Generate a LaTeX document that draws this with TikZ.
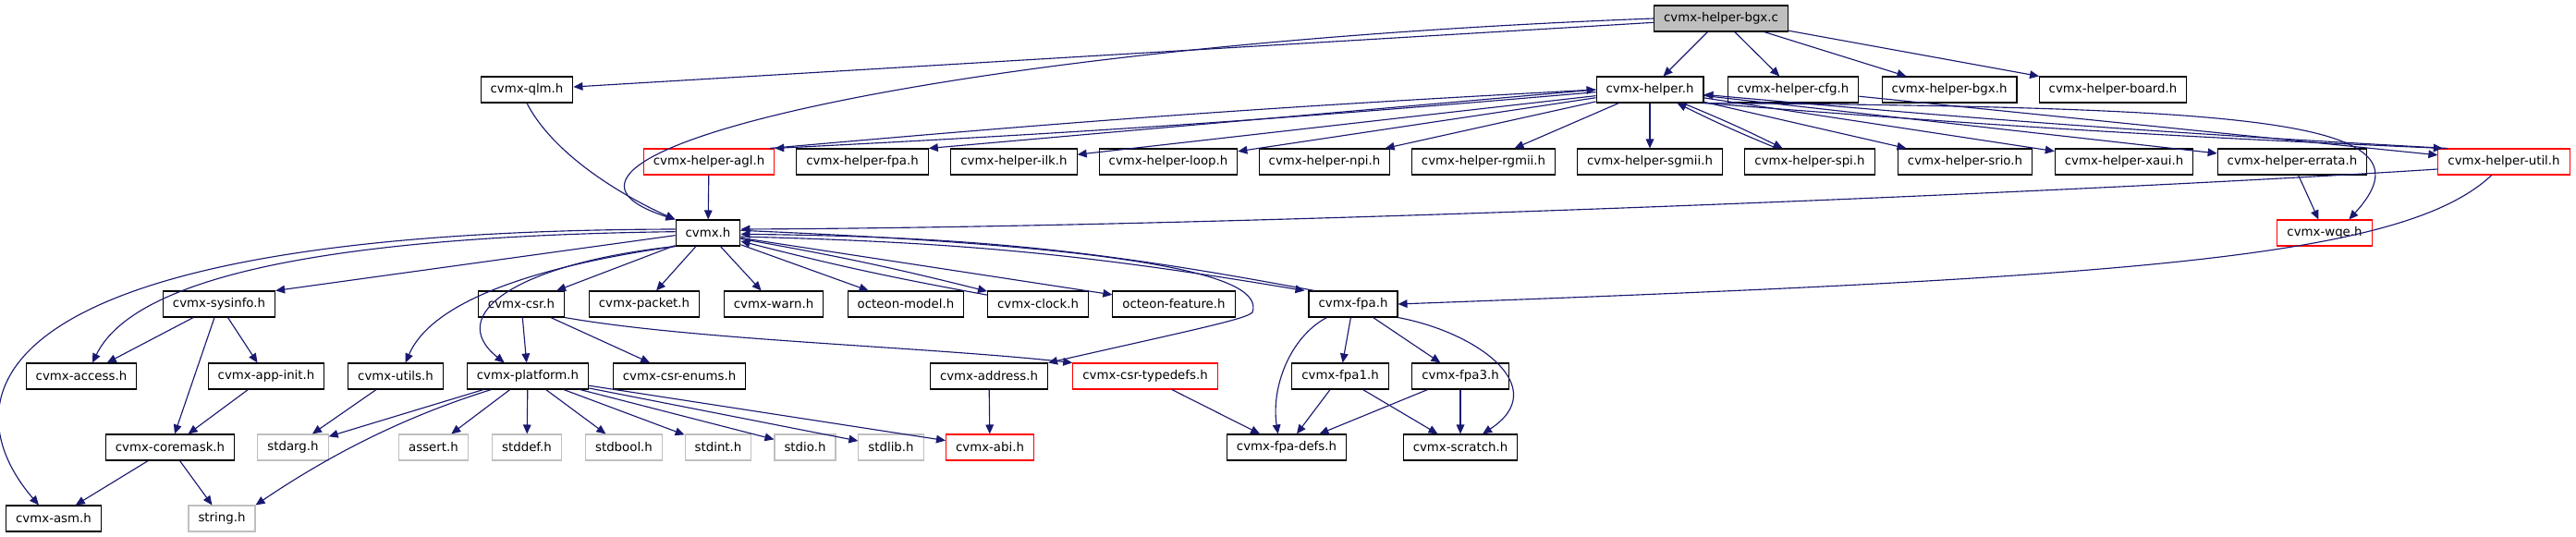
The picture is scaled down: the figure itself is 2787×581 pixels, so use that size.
\documentclass[tikz,border=0pt]{standalone}
\usepackage{fontspec}
\setmainfont{DejaVu Sans}
\usepackage{tikz}
\usetikzlibrary{arrows.meta, positioning}
\usepackage{xcolor}
\definecolor{edgeBlue}{RGB}{25,25,112}
\definecolor{boxRed}{RGB}{255,0,0}
\definecolor{boxGray}{RGB}{191,191,191}

\begin{document}
\begin{tikzpicture}[
  x=0.75pt, y=-0.75pt,
  hdr/.style={
    rectangle, draw=#1, line width=0.8pt, fill=white,
    minimum height=21pt, inner xsep=7.9pt, inner ysep=0pt,
    font=\fontsize{10}{12}\selectfont, text=black
  },
  hdr/.default=black,
  srcfile/.style={hdr, fill=boxGray},
  dep/.style={-{Triangle[length=7.5pt,width=6.5pt]}, edgeBlue, line width=0.85pt}
]
  \useasboundingbox (0,0) rectangle (2787,581);

  % Row 0 and 1
  \node[srcfile] (bgxc) at (1862,20) {cvmx-helper-bgx.c};
  \node[hdr] (qlm)    at (570,97)   {cvmx-qlm.h};
  \node[hdr] (helper) at (1785,97)  {cvmx-helper.h};
  \node[hdr] (hcfg)   at (1940,97)  {cvmx-helper-cfg.h};
  \node[hdr] (hbgx)   at (2109,97)  {cvmx-helper-bgx.h};
  \node[hdr] (hboard) at (2286,97)  {cvmx-helper-board.h};

  % Row 2: helper headers
  \node[hdr=boxRed] (agl) at (767,175) {cvmx-helper-agl.h};
  \node[hdr] (hfpa)   at (933,175)  {cvmx-helper-fpa.h};
  \node[hdr] (ilk)    at (1097,175) {cvmx-helper-ilk.h};
  \node[hdr] (loop)   at (1264,175) {cvmx-helper-loop.h};
  \node[hdr] (npi)    at (1433,175) {cvmx-helper-npi.h};
  \node[hdr] (rgmii)  at (1605,175) {cvmx-helper-rgmii.h};
  \node[hdr] (sgmii)  at (1785,175) {cvmx-helper-sgmii.h};
  \node[hdr] (spi)    at (1958,175) {cvmx-helper-spi.h};
  \node[hdr] (srio)   at (2126,175) {cvmx-helper-srio.h};
  \node[hdr] (xaui)   at (2298,175) {cvmx-helper-xaui.h};
  \node[hdr] (errata) at (2480,175) {cvmx-helper-errata.h};
  \node[hdr=boxRed] (util) at (2709,175) {cvmx-helper-util.h};

  % Row 3
  \node[hdr] (cvmx) at (766,252) {cvmx.h};
  \node[hdr=boxRed] (wqe) at (2515,252) {cvmx-wqe.h};

  % Row 4
  \node[hdr] (sysinfo)  at (237,329)  {cvmx-sysinfo.h};
  \node[hdr] (csr)      at (564,329)  {cvmx-csr.h};
  \node[hdr] (packet)   at (697,329)  {cvmx-packet.h};
  \node[hdr] (warn)     at (837,329)  {cvmx-warn.h};
  \node[hdr] (omodel)   at (980,329)  {octeon-model.h};
  \node[hdr] (clock)    at (1123,329) {cvmx-clock.h};
  \node[hdr] (ofeature) at (1270,329) {octeon-feature.h};
  \node[hdr] (fpa)      at (1464,329) {cvmx-fpa.h};

  % Row 5
  \node[hdr] (access)   at (88,407)   {cvmx-access.h};
  \node[hdr] (appinit)  at (288,407)  {cvmx-app-init.h};
  \node[hdr] (utils)    at (428,407)  {cvmx-utils.h};
  \node[hdr] (platform) at (571,407)  {cvmx-platform.h};
  \node[hdr] (csrenums) at (735,407)  {cvmx-csr-enums.h};
  \node[hdr] (address)  at (1070,407) {cvmx-address.h};
  \node[hdr=boxRed] (typedefs) at (1239,407) {cvmx-csr-typedefs.h};
  \node[hdr] (fpaone)   at (1450,407) {cvmx-fpa1.h};
  \node[hdr] (fpathree) at (1580,407) {cvmx-fpa3.h};

  % Row 6
  \node[hdr] (coremask)       at (184,484)  {cvmx-coremask.h};
  \node[hdr=boxGray] (stdarg)  at (317,484)  {stdarg.h};
  \node[hdr=boxGray] (assert)  at (469,484)  {assert.h};
  \node[hdr=boxGray] (stddef)  at (570,484)  {stddef.h};
  \node[hdr=boxGray] (stdbool) at (675,484)  {stdbool.h};
  \node[hdr=boxGray] (stdint)  at (777,484)  {stdint.h};
  \node[hdr=boxGray] (stdio)   at (871,484)  {stdio.h};
  \node[hdr=boxGray] (stdlib)  at (964,484)  {stdlib.h};
  \node[hdr=boxRed] (abi)      at (1071,484) {cvmx-abi.h};
  \node[hdr] (fpadefs)        at (1392,484) {cvmx-fpa-defs.h};
  \node[hdr] (scratch)        at (1580,484) {cvmx-scratch.h};

  % Row 7
  \node[hdr] (asm)            at (58,561)  {cvmx-asm.h};
  \node[hdr=boxGray] (string) at (240,561) {string.h};

  % Straight includes
  \foreach \a/\b in {bgxc/helper, bgxc/hcfg, bgxc/hbgx, bgxc/hboard, bgxc/qlm,
      helper/ilk, helper/loop, helper/npi, helper/rgmii,
      helper/sgmii, helper/srio, helper/xaui, helper/errata,
      agl/cvmx, errata/wqe, hcfg/util,
      cvmx/csr, cvmx/packet, cvmx/warn, cvmx/omodel, cvmx/ofeature,
      sysinfo/access, sysinfo/appinit, sysinfo/coremask, appinit/coremask,
      coremask/asm, coremask/string, utils/stdarg,
      csr/platform, csr/csrenums,
      platform/stdarg, platform/assert, platform/stddef, platform/stdbool,
      platform/stdint, platform/stdio, platform/stdlib, platform/abi,
      address/abi, typedefs/fpadefs,
      fpa/fpaone, fpa/fpathree, fpaone/fpadefs, fpaone/scratch,
      fpathree/fpadefs, fpathree/scratch}
    \draw[dep] (\a) -- (\b);
  \draw[dep] (helper.west) -- (hfpa.north east);

  % Mutual includes
  \foreach \a/\b in {helper/spi, cvmx/clock} {
    \draw[dep] (\a) to[bend left=2] (\b);
    \draw[dep] (\b) to[bend left=2] (\a);
  }
  \draw[dep] ([yshift=-2pt]helper.west) to[bend left=1] (agl.north east);
  \draw[dep] ([xshift=-4pt]agl.north east) to[bend left=1] (helper.west);
  \draw[dep] (helper.south east) to[bend right=1] ([xshift=4pt]util.north west);
  \draw[dep] ([xshift=8pt]util.north west) to[bend left=1] ([yshift=-4pt]helper.east);
  \draw[dep] ([yshift=-3pt]cvmx.east) to[bend left=4] ([xshift=-3pt]fpa.north west);
  \draw[dep] ([xshift=5pt]fpa.north west) to[bend right=5] ([yshift=-1pt]cvmx.east);

  % Curved includes
  \draw[dep] (bgxc.west) .. controls (1000,50) and (520,170) .. (cvmx.north west);
  \draw[dep] (qlm.south) .. controls (600,170) and (680,215) .. (cvmx.north west);
  \draw[dep] ([yshift=3pt]cvmx.west) .. controls (-50,250) and (-50,440) .. ([xshift=-12pt]asm.north);
  \draw[dep] ([yshift=1pt]cvmx.west) .. controls (400,255) and (150,290) .. ([xshift=9pt]access.north);
  \draw[dep] ([yshift=-2pt]cvmx.west) -- (sysinfo.north east);
  \draw[dep] (cvmx.south west) .. controls (600,285) and (470,320) .. ([xshift=8pt]utils.north);
  \draw[dep] (cvmx.south west) .. controls (560,285) and (480,340) .. ([xshift=-19pt]platform.north);
  \draw[dep] ([yshift=2pt]cvmx.east) .. controls (1250,268) and (1368,300) .. (1355,338)
    .. controls (1348,345) and (1300,355) .. (address.north east);
  \draw[dep] (csr.south east) .. controls (750,368) and (1000,375) .. (typedefs.north west);
  \draw[dep] ([xshift=20pt]platform.south west) .. controls (440,450) and (360,490) .. (string.north east);
  \draw[dep] (helper.south east) .. controls (2450,116) and (2640,130) .. ([xshift=-19pt]wqe.north east);
  \draw[dep] ([yshift=-6pt]util.west) .. controls (2300,205) and (1400,245) .. ([yshift=3pt]cvmx.east);
  \draw[dep] ([xshift=-10pt]util.south) .. controls (2600,280) and (2300,300) .. (fpa.east);
  \draw[dep] ([xshift=15pt]fpa.south west) .. controls (1395,365) and (1375,420) .. ([xshift=-7pt]fpadefs.north);
  \draw[dep] (fpa.south east) .. controls (1600,360) and (1680,420) .. ([xshift=18pt]scratch.north);
\end{tikzpicture}
\end{document}
